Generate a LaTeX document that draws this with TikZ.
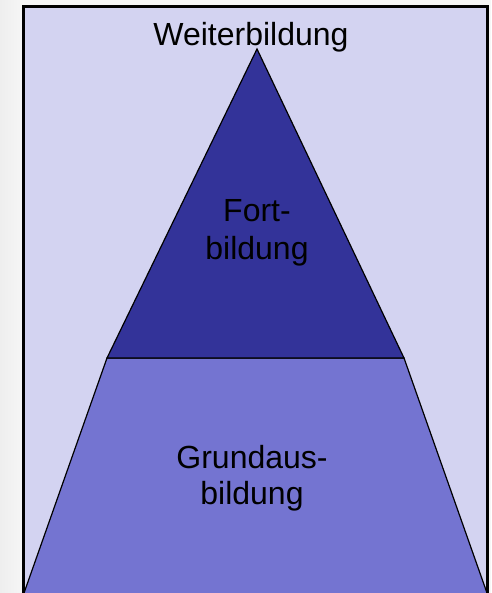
\documentclass[tikz,border=0pt]{standalone}
\usepackage{fontspec}
\setmainfont{Liberation Sans}
\definecolor{pagebg}{HTML}{F6F6F6}
\definecolor{pageedge}{HTML}{EEEEEE}
\definecolor{framebg}{HTML}{D3D3F1}
\definecolor{topfill}{HTML}{333399}
\definecolor{basefill}{HTML}{7474D1}
\tikzset{
  lbl/.style={anchor=base, inner sep=0pt, font=\fontsize{32}{38}\selectfont, text=black},
  part/.style={draw=black, line width=1.2pt, line join=miter},
}
\begin{document}
\begin{tikzpicture}[x=1pt,y=-1pt]
\useasboundingbox (0,0) rectangle (491,593);
\fill[pagebg] (0,0) rectangle (491,593);
\shade[left color=pageedge, right color=pagebg] (0,0) rectangle (24,593);
\fill[framebg] (23.5,6.5) rectangle (487.5,600);
% bottom trapezoid
\coordinate (bl) at (24,593);
\coordinate (br) at (487,593);
\coordinate (ml) at (107,358);
\coordinate (mr) at (404,358);
\coordinate (apex) at (257,49);
\fill[basefill] (bl) -- (ml) -- (mr) -- (br) -- cycle;
\draw[part] (bl) -- (ml) -- (mr) -- (br);
% top triangle
\filldraw[part, fill=topfill] (ml) -- (apex) -- (mr) -- cycle;
% frame
\draw[black, line width=2.2pt] (23.5,600) -- (23.5,6.5) -- (487.5,6.5) -- (487.5,600);
% labels
\node[lbl] (weiter) at (251,46) {Weiterbildung};
\node[lbl] (fort1) at (257,222) {Fort-};
\node[lbl] (fort2) at (257,259) {bildung};
\node[lbl] (grund1) at (252,468) {Grundaus-};
\node[lbl] (grund2) at (252,504) {bildung};
\end{tikzpicture}
\end{document}
